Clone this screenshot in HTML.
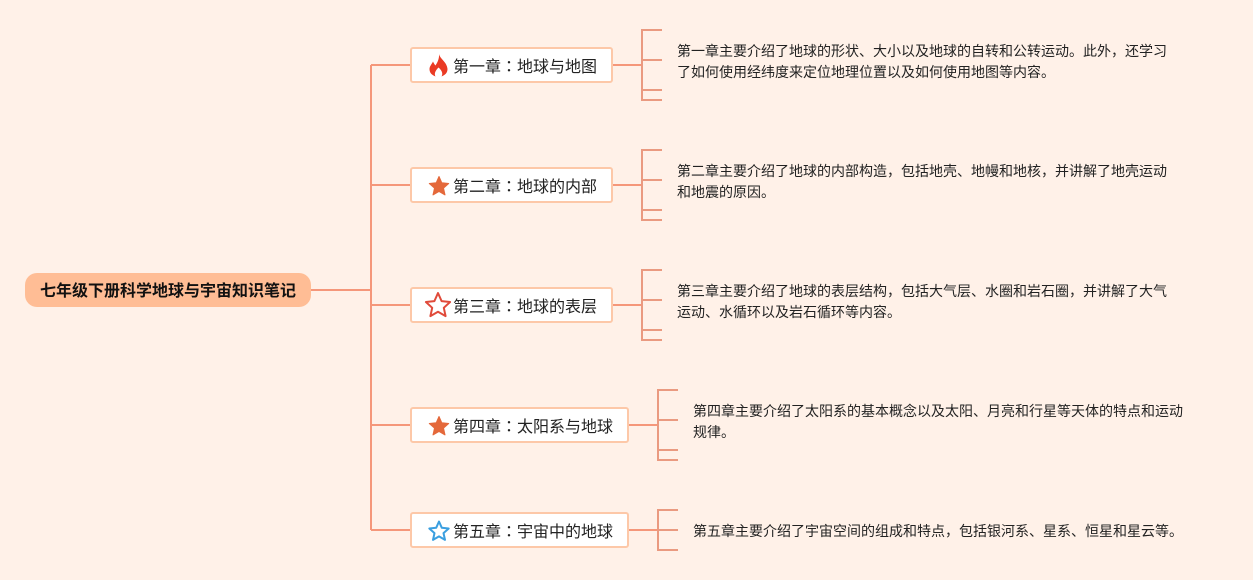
<!DOCTYPE html>
<html lang="zh-CN">
<head>
<meta charset="utf-8">
<style>
html,body{margin:0;padding:0;width:1253px;height:580px;overflow:hidden;background:#fff1e8;}
body{position:relative;font-family:"Liberation Sans","Noto Sans CJK SC",sans-serif;color:#222;}
svg.lines{position:absolute;left:0;top:0;}
.root{position:absolute;left:25px;top:273px;width:286px;height:34px;background:#ffbd95;border-radius:12px;font-size:16px;font-weight:bold;line-height:37px;text-align:center;color:#111;}
.node{position:absolute;left:410px;height:32px;background:#fff;border:2px solid #fdc8a8;border-radius:3px;font-size:16px;line-height:33px;box-sizing:content-box;}
.node span.t{position:absolute;left:41px;top:0;white-space:nowrap;}
.c{font-family:"Noto Sans CJK TC",sans-serif;}
.node svg{position:absolute;left:12.5px;top:2.5px;}
.d{position:absolute;font-size:14px;line-height:21px;white-space:nowrap;color:#222;}
</style>
</head>
<body>
<svg class="lines" width="1253" height="580" fill="none">
<g stroke="#f5977a" stroke-width="2">
<path d="M311 290H371M371 65V530M371 65H411M371 185H411M371 305H411M371 425H411M371 530H411"/>
<path d="M612 65H642M612 185H642M612 305H642M628 425H658M628 530H658"/>
</g>
<g stroke="#ea9a80" stroke-width="2">
<path d="M662 30H642V100H662M642 60H662M642 90H662"/>
<path d="M662 150H642V220H662M642 180H662M642 210H662"/>
<path d="M662 270H642V340H662M642 300H662M642 330H662"/>
<path d="M678 390H658V460H678M658 420H678M658 450H678"/>
<path d="M678 510H658V550H678M658 530H678"/>
</g>
</svg>

<div class="root">七年级下册科学地球与宇宙知识笔记</div>

<div class="node" style="top:47px;width:199px;">
<svg width="28" height="28" viewBox="0 0 28 28" style="left:12px;top:3px;"><path d="M15 2C16 7 23 10 23.500 17C23.500 21 21 23 17.500 24.500C19 22 18.500 19 14.500 15.500C11 19 10 22 11.500 24.500C8 23 5.500 21 5.500 17C5.500 14 8 12 9 9.500C10 11.500 10.500 12.500 11.500 13.500C13 11 15.500 7 15 2Z" fill="#ea3a24"/></svg>
<span class="t">第一章<span class="c" lang="zh-TW">：</span>地球与地图</span></div>

<div class="node" style="top:167px;width:199px;">
<svg width="28" height="28" viewBox="0 0 28 28"><path d="M14 4.500l2.800 6.300 6.900.7-5.200 4.600 1.500 6.800L14 19.400l-6 3.500 1.500-6.800-5.200-4.600 6.900-.7z" fill="#e4683a" stroke="#e4683a" stroke-width="1" stroke-linejoin="round"/></svg>
<span class="t">第二章<span class="c" lang="zh-TW">：</span>地球的内部</span></div>

<div class="node" style="top:287px;width:199px;">
<svg width="28" height="28" viewBox="0 0 28 28" style="left:12px;top:2px;"><path d="M14 2l3.600 8.100 8.500.9-6.300 5.800 1.800 8.300L14 20.800l-7.600 4.300 1.800-8.300L1.900 11l8.500-.9z" fill="#fff" stroke="#e04a3a" stroke-width="2" stroke-linejoin="round"/></svg>
<span class="t">第三章<span class="c" lang="zh-TW">：</span>地球的表层</span></div>

<div class="node" style="top:407px;width:215px;">
<svg width="28" height="28" viewBox="0 0 28 28"><path d="M14 4.500l2.800 6.300 6.900.7-5.200 4.600 1.500 6.800L14 19.400l-6 3.500 1.500-6.800-5.200-4.600 6.900-.7z" fill="#e4683a" stroke="#e4683a" stroke-width="1" stroke-linejoin="round"/></svg>
<span class="t">第四章<span class="c" lang="zh-TW">：</span>太阳系与地球</span></div>

<div class="node" style="top:512px;width:215px;">
<svg width="28" height="28" viewBox="0 0 28 28"><path d="M14 4.500l2.800 6.300 6.900.7-5.200 4.600 1.500 6.800L14 19.400l-6 3.500 1.500-6.800-5.200-4.600 6.900-.7z" fill="#fff" stroke="#3a9fe0" stroke-width="2" stroke-linejoin="round"/></svg>
<span class="t">第五章<span class="c" lang="zh-TW">：</span>宇宙中的地球</span></div>

<div class="d" style="left:677px;top:41px;">第一章主要介绍了地球的形状、大小以及地球的自转和公转运动。此外，还学习<br>了如何使用经纬度来定位地理位置以及如何使用地图等内容。</div>
<div class="d" style="left:677px;top:161px;">第二章主要介绍了地球的内部构造，包括地壳、地幔和地核，并讲解了地壳运动<br>和地震的原因。</div>
<div class="d" style="left:677px;top:281px;">第三章主要介绍了地球的表层结构，包括大气层、水圈和岩石圈，并讲解了大气<br>运动、水循环以及岩石循环等内容。</div>
<div class="d" style="left:693px;top:401px;">第四章主要介绍了太阳系的基本概念以及太阳、月亮和行星等天体的特点和运动<br>规律。</div>
<div class="d" style="left:693px;top:521px;">第五章主要介绍了宇宙空间的组成和特点，包括银河系、星系、恒星和星云等。</div>
</body>
</html>
